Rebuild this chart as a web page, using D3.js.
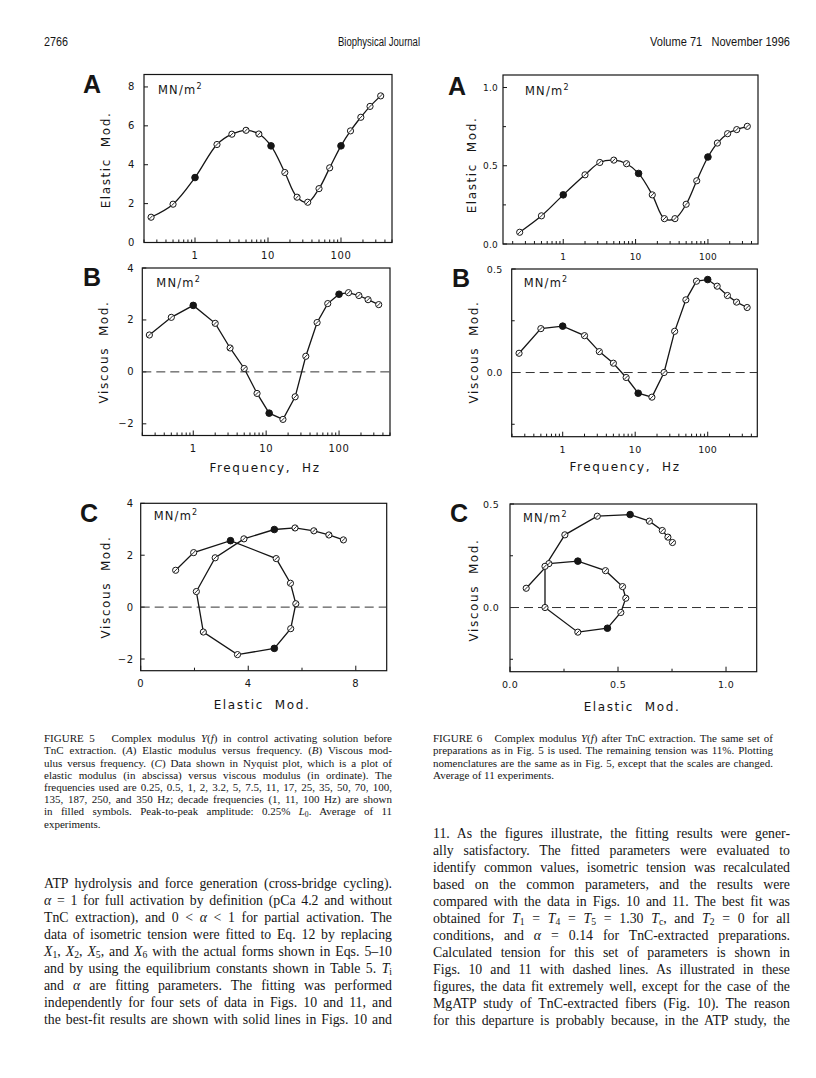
<!DOCTYPE html>
<html>
<head>
<meta charset="utf-8">
<script src="https://cdn.jsdelivr.net/npm/d3@7"></script>
<style>
  body { margin: 0; background: #fff; }
  #page { position: relative; width: 816px; height: 1078px; overflow: hidden; background: #fff; }
  svg { position: absolute; left: 0; top: 0; }
  .ln { position: absolute; white-space: nowrap; font-family: "Liberation Serif", "Times New Roman", serif; color: #151515; }
  .ln sub { font-size: 70%; vertical-align: -0.25em; line-height: 0; }
  .hdr { font-family: "Liberation Sans", Arial, sans-serif; font-size: 12px; fill: #151515; }
  .tick-label, .axis-title, .units { font-family: "DejaVu Sans", sans-serif; fill: #151515; }
  .panel-letter { font-family: "Liberation Sans", Arial, sans-serif; font-weight: bold; fill: #151515; }
</style>
</head>
<body>
<div id="page"></div>
<script>
// frequencies (Hz) used in both figures; decade ones drawn filled
const freqHz = [0.25, 0.5, 1, 2, 3.2, 5, 7.5, 11, 17, 25, 35, 50, 70, 100, 135, 187, 250, 350];
const decadeHz = [1, 11, 100];

// Figure 5: control, before TnC extraction (MN/m^2)
const fig5Elastic = [1.30, 1.97, 3.34, 5.04, 5.57, 5.77, 5.58, 4.97, 3.60, 2.33, 2.07, 2.77, 3.84, 4.97, 5.74, 6.44, 7.00, 7.54];
const fig5Viscous = [1.42, 2.10, 2.56, 1.87, 0.92, 0.13, -0.83, -1.59, -1.83, -0.96, 0.60, 1.90, 2.63, 2.99, 3.05, 2.94, 2.78, 2.59];

// Figure 6: after TnC extraction (MN/m^2)
const fig6Elastic = [0.075, 0.18, 0.314, 0.442, 0.521, 0.536, 0.513, 0.451, 0.314, 0.162, 0.162, 0.254, 0.404, 0.556, 0.645, 0.705, 0.731, 0.752];
const fig6Viscous = [0.093, 0.212, 0.224, 0.178, 0.101, 0.045, -0.024, -0.10, -0.119, 0.0, 0.199, 0.351, 0.441, 0.449, 0.417, 0.372, 0.34, 0.314];

// tick labels
const fig5ElasticTicks = [0, 2, 4, 6, 8];
const fig5ViscousTicks = [-2, 0, 2, 4];
const fig5NyquistXTicks = [0, 4, 8];
const fig5NyquistXMinor = [2, 6];
const fig6MajorTicks = [0, 0.5, 1];
const fig6ViscousTicks = [0, 0.5];
const freqTickLabels = [1, 10, 100];

const page = d3.select("#page");
const svg = page.append("svg").attr("width", 816).attr("height", 1078);

// running head (condensed face squeezed with textLength)
svg.append("text").attr("class", "hdr").attr("x", 44).attr("y", 46)
  .attr("textLength", 24).attr("lengthAdjust", "spacingAndGlyphs").text("2766");
svg.append("text").attr("class", "hdr").attr("x", 338).attr("y", 46)
  .attr("textLength", 82).attr("lengthAdjust", "spacingAndGlyphs").text("Biophysical Journal");
svg.append("text").attr("class", "hdr").attr("x", 650).attr("y", 46)
  .attr("textLength", 140).attr("lengthAdjust", "spacingAndGlyphs")
  .attr("xml:space", "preserve").text("Volume 71   November 1996");

function fmt1(v) { return d3.format(".1f")(v); }

function drawPanel(p) {
  const g = svg.append("g");
  const x = p.logX
    ? d3.scaleLog().domain(p.xDomain).range([p.left, p.right])
    : d3.scaleLinear().domain(p.xDomain).range([p.left, p.right]);
  const y = d3.scaleLinear().domain(p.yDomain).range([p.bottom, p.top]);
  const lblSize = p.labelSize || 10, lblSpace = p.labelSpacing == null ? 0.6 : p.labelSpacing;

  // frame
  g.append("rect")
    .attr("x", p.left).attr("y", p.top)
    .attr("width", p.right - p.left).attr("height", p.bottom - p.top)
    .attr("fill", "none").attr("stroke", "#151515").attr("stroke-width", 1.2);

  // y ticks (inside)
  const yAll = p.yTicks.map(v => ({ v, major: true })).concat((p.yMinor || []).map(v => ({ v, major: false })));
  g.selectAll(".yt").data(yAll).join("line")
    .attr("x1", p.left).attr("x2", d => p.left + (d.major ? 4 : 3))
    .attr("y1", d => y(d.v)).attr("y2", d => y(d.v))
    .attr("stroke", "#151515").attr("stroke-width", 1);
  g.selectAll(".yl").data(p.yLabels).join("text")
    .attr("class", "tick-label")
    .attr("x", p.left - p.yLabelGap).attr("y", d => y(d) + 3.5)
    .attr("text-anchor", "end").attr("font-size", lblSize).attr("letter-spacing", lblSpace)
    .text(d => p.yFormat(d));

  // x ticks (inside)
  let xAll;
  if (p.logX) {
    xAll = x.ticks().map(v => ({ v, major: Math.abs(Math.log10(v) - Math.round(Math.log10(v))) < 1e-9 }));
  } else {
    xAll = p.xTicks.map(v => ({ v, major: true })).concat((p.xMinor || []).map(v => ({ v, major: false })));
  }
  g.selectAll(".xt").data(xAll).join("line")
    .attr("x1", d => x(d.v)).attr("x2", d => x(d.v))
    .attr("y1", p.bottom).attr("y2", d => p.bottom - (d.major ? 5 : 3))
    .attr("stroke", "#151515").attr("stroke-width", 1);
  g.selectAll(".xl").data(p.xLabels).join("text")
    .attr("class", "tick-label")
    .attr("x", d => x(d)).attr("y", p.bottom + 16)
    .attr("text-anchor", "middle").attr("font-size", lblSize).attr("letter-spacing", lblSpace)
    .text(d => p.xFormat(d));

  // zero reference
  if (p.zeroLine) {
    g.append("line")
      .attr("x1", p.left).attr("x2", p.right)
      .attr("y1", y(0)).attr("y2", y(0))
      .attr("stroke", "#333").attr("stroke-width", 1).attr("stroke-dasharray", "9,5");
  }

  // data
  const pts = p.xs.map((xv, i) => ({ x: xv, y: p.ys[i], filled: decadeHz.includes(freqHz[i]) }));
  const line = d3.line().x(d => x(d.x)).y(d => y(d.y)).curve(p.curve || d3.curveLinear);
  g.append("path").datum(pts)
    .attr("d", line).attr("fill", "none")
    .attr("stroke", "#151515").attr("stroke-width", 1.3);

  const mk = g.selectAll(".pt").data(pts).join("g")
    .attr("transform", d => `translate(${x(d.x)},${y(d.y)})`);
  mk.append("circle")
    .attr("r", d => d.filled ? 3.3 : 3.1)
    .attr("fill", d => d.filled ? "#151515" : "#fff")
    .attr("stroke", "#151515").attr("stroke-width", 1);
  mk.filter(d => !d.filled).append("line")
    .attr("x1", -1.8).attr("y1", 1.8).attr("x2", 1.8).attr("y2", -1.8)
    .attr("stroke", "#151515").attr("stroke-width", 0.9);

  // labels
  g.append("text").attr("class", "panel-letter")
    .attr("x", p.letterX).attr("y", p.letterY).attr("font-size", 25).text(p.letter);

  const u = g.append("text").attr("class", "units")
    .attr("x", p.left + p.unitsDx).attr("y", p.top + p.unitsDy)
    .attr("font-size", 11.5).attr("letter-spacing", 1.2);
  u.append("tspan").text("MN/m");
  u.append("tspan").attr("dy", -5).attr("font-size", 8).text("2");

  g.append("text").attr("class", "axis-title")
    .attr("transform", `translate(${p.yTitleX},${p.yTitleY}) rotate(-90)`)
    .attr("text-anchor", "middle").attr("dy", 4)
    .attr("font-size", 12).attr("letter-spacing", 1.6)
    .attr("xml:space", "preserve")
    .text(p.yTitle);

  if (p.xTitle) {
    g.append("text").attr("class", "axis-title")
      .attr("x", p.xTitleX).attr("y", p.xTitleY)
      .attr("text-anchor", "middle")
      .attr("font-size", 12).attr("letter-spacing", 1.6)
      .attr("xml:space", "preserve")
      .text(p.xTitle);
  }
}

const intFmt = d => String(d).replace("-", "\u2212");

// Figure 5
drawPanel({
  left: 144, right: 392, top: 74.5, bottom: 242.5,
  logX: true, xDomain: [0.2, 500], yDomain: [0, 8.64],
  yTicks: fig5ElasticTicks, yLabels: fig5ElasticTicks, yFormat: intFmt, yLabelGap: 9,
  xLabels: freqTickLabels, xFormat: d => d,
  xs: freqHz, ys: fig5Elastic, curve: d3.curveCatmullRom,
  letter: "A", letterX: 83, letterY: 93, unitsDx: 14, unitsDy: 19,
  yTitle: "Elastic  Mod.", yTitleX: 106, yTitleY: 160
});
drawPanel({
  left: 142.3, right: 390, top: 268, bottom: 435.5,
  logX: true, xDomain: [0.2, 500], yDomain: [-2.45, 4],
  yTicks: fig5ViscousTicks, yLabels: fig5ViscousTicks, yFormat: intFmt, yLabelGap: 8,
  xLabels: freqTickLabels, xFormat: d => d,
  xs: freqHz, ys: fig5Viscous, zeroLine: true,
  letter: "B", letterX: 83, letterY: 286, unitsDx: 14, unitsDy: 19,
  yTitle: "Viscous  Mod.", yTitleX: 104, yTitleY: 352,
  xTitle: "Frequency,  Hz", xTitleX: 265, xTitleY: 472
});
drawPanel({
  left: 140.7, right: 386.7, top: 503.3, bottom: 670.7,
  logX: false, xDomain: [0, 9.15], yDomain: [-2.45, 4],
  yTicks: fig5ViscousTicks, yLabels: fig5ViscousTicks, yFormat: intFmt, yLabelGap: 7,
  xTicks: fig5NyquistXTicks, xMinor: fig5NyquistXMinor, xLabels: fig5NyquistXTicks, xFormat: intFmt,
  xs: fig5Elastic, ys: fig5Viscous, zeroLine: true,
  letter: "C", letterX: 80, letterY: 522, unitsDx: 13, unitsDy: 17,
  yTitle: "Viscous  Mod.", yTitleX: 106, yTitleY: 587,
  xTitle: "Elastic  Mod.", xTitleX: 262, xTitleY: 709
});

// Figure 6
drawPanel({
  left: 503, right: 758, top: 75, bottom: 244,
  logX: true, xDomain: [0.147, 492], yDomain: [0, 1.08],
  yTicks: fig6MajorTicks, yMinor: [0.25, 0.75], yLabels: fig6MajorTicks, yFormat: fmt1, yLabelGap: 5,
  xLabels: freqTickLabels, xFormat: d => d, labelSize: 9, labelSpacing: 0.2,
  xs: freqHz, ys: fig6Elastic, curve: d3.curveCatmullRom,
  letter: "A", letterX: 448, letterY: 95, unitsDx: 22, unitsDy: 20,
  yTitle: "Elastic  Mod.", yTitleX: 472, yTitleY: 165
});
drawPanel({
  left: 511.7, right: 757.3, top: 269, bottom: 436.7,
  logX: true, xDomain: [0.198, 483], yDomain: [-0.31, 0.5],
  yTicks: fig6ViscousTicks, yMinor: [-0.25, 0.25], yLabels: fig6ViscousTicks, yFormat: fmt1, yLabelGap: 9,
  xLabels: freqTickLabels, xFormat: d => d, labelSize: 9.5, labelSpacing: 0.3,
  xs: freqHz, ys: fig6Viscous, zeroLine: true,
  letter: "B", letterX: 452, letterY: 287, unitsDx: 12, unitsDy: 18,
  yTitle: "Viscous  Mod.", yTitleX: 474, yTitleY: 352,
  xTitle: "Frequency,  Hz", xTitleX: 625, xTitleY: 471
});
drawPanel({
  left: 510, right: 756.7, top: 504, bottom: 671.7,
  logX: false, xDomain: [0, 1.142], yDomain: [-0.31, 0.5],
  yTicks: fig6ViscousTicks, yMinor: [-0.25, 0.25], yLabels: fig6ViscousTicks, yFormat: fmt1, yLabelGap: 11,
  xTicks: fig6MajorTicks, xMinor: [0.25, 0.75], xLabels: fig6MajorTicks, xFormat: fmt1,
  labelSize: 9.5, labelSpacing: 0.3,
  xs: fig6Elastic, ys: fig6Viscous, zeroLine: true,
  letter: "C", letterX: 450, letterY: 522, unitsDx: 13, unitsDy: 18,
  yTitle: "Viscous  Mod.", yTitleX: 474, yTitleY: 590,
  xTitle: "Elastic  Mod.", xTitleX: 632, xTitleY: 711
});

// captions and body text, one entry per printed line
const caption5 = [
  "FIGURE 5&nbsp;&nbsp; Complex modulus <i>Y</i>(<i>f</i>) in control activating solution before",
  "TnC extraction. (<i>A</i>) Elastic modulus versus frequency. (<i>B</i>) Viscous mod-",
  "ulus versus frequency. (<i>C</i>) Data shown in Nyquist plot, which is a plot of",
  "elastic modulus (in abscissa) versus viscous modulus (in ordinate). The",
  "frequencies used are 0.25, 0.5, 1, 2, 3.2, 5, 7.5, 11, 17, 25, 35, 50, 70, 100,",
  "135, 187, 250, and 350 Hz; decade frequencies (1, 11, 100 Hz) are shown",
  "in filled symbols. Peak-to-peak amplitude: 0.25% <i>L</i><sub>0</sub>. Average of 11",
  "experiments."
];
const caption6 = [
  "FIGURE 6&nbsp;&nbsp; Complex modulus <i>Y</i>(<i>f</i>) after TnC extraction. The same set of",
  "preparations as in Fig. 5 is used. The remaining tension was 11%. Plotting",
  "nomenclatures are the same as in Fig. 5, except that the scales are changed.",
  "Average of 11 experiments."
];
const bodyLeft = [
  "ATP hydrolysis and force generation (cross-bridge cycling).",
  "<i>α</i> = 1 for full activation by definition (pCa 4.2 and without",
  "TnC extraction), and 0 &lt; <i>α</i> &lt; 1 for partial activation. The",
  "data of isometric tension were fitted to Eq. 12 by replacing",
  "<i>X</i><sub>1</sub>, <i>X</i><sub>2</sub>, <i>X</i><sub>5</sub>, and <i>X</i><sub>6</sub> with the actual forms shown in Eqs. 5–10",
  "and by using the equilibrium constants shown in Table 5. <i>T</i><sub>i</sub>",
  "and <i>α</i> are fitting parameters. The fitting was performed",
  "independently for four sets of data in Figs. 10 and 11, and",
  "the best-fit results are shown with solid lines in Figs. 10 and"
];
const bodyRight = [
  "11. As the figures illustrate, the fitting results were gener-",
  "ally satisfactory. The fitted parameters were evaluated to",
  "identify common values, isometric tension was recalculated",
  "based on the common parameters, and the results were",
  "compared with the data in Figs. 10 and 11. The best fit was",
  "obtained for <i>T</i><sub>1</sub> = <i>T</i><sub>4</sub> = <i>T</i><sub>5</sub> = 1.30 <i>T</i><sub>c</sub>, and <i>T</i><sub>2</sub> = 0 for all",
  "conditions, and <i>α</i> = 0.14 for TnC-extracted preparations.",
  "Calculated tension for this set of parameters is shown in",
  "Figs. 10 and 11 with dashed lines. As illustrated in these",
  "figures, the data fit extremely well, except for the case of the",
  "MgATP study of TnC-extracted fibers (Fig. 10). The reason",
  "for this departure is probably because, in the ATP study, the"
];

// each line is stretched to the column width by adjusting word spacing
function textBlock(lines, x, baseline, dy, width, size, lastShort) {
  lines.forEach((html, i) => {
    const div = page.append("div").attr("class", "ln")
      .style("left", x + "px")
      .style("top", (baseline + i * dy - size * 0.9) + "px")
      .style("font-size", size + "px")
      .style("line-height", size + "px")
      .html(html);
    if (lastShort && i === lines.length - 1) return;
    const node = div.node();
    const w = node.getBoundingClientRect().width;
    const gaps = (node.textContent.match(/[ \u00a0]/g) || []).length;
    if (gaps) div.style("word-spacing", ((width - w) / gaps) + "px");
  });
}

textBlock(caption5, 44, 743, 12.2, 348, 11, true);
textBlock(caption6, 433, 743, 12.2, 340, 11, true);
textBlock(bodyLeft, 44, 889, 17, 348, 13.8, false);
textBlock(bodyRight, 433, 839, 17, 357, 13.8, false);
</script>
</body>
</html>
